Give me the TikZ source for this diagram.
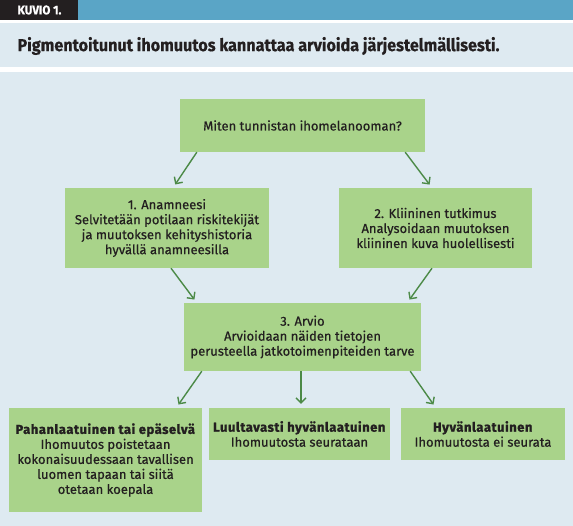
\documentclass[tikz,border=0pt]{standalone}
\usepackage{fontspec}
\setmainfont{Fira Sans}[FakeBold=0.6, BoldFeatures={FakeBold=1.3, LetterSpace=4}]
\newfontfamily\headfont{Fira Sans Bold}[FakeStretch=0.93, FakeBold=0.6]
\usetikzlibrary{arrows.meta}

\definecolor{barblue}{HTML}{5AA5C6}
\definecolor{panelblue}{HTML}{DEEAF1}
\definecolor{boxgreen}{HTML}{A9D38A}
\definecolor{arrowgreen}{HTML}{4C8A47}
\definecolor{textblack}{HTML}{231F20}

\tikzset{
  stepbox/.style={fill=boxgreen, align=center, inner sep=0pt,
                  text=textblack, font=\fontsize{13}{15}\selectfont},
  flow/.style={draw=arrowgreen, line width=1.4pt, shorten >=4pt,
               -{Straight Barb[length=5pt,width=10pt,line width=1.4pt]}}
}

\begin{document}
\begin{tikzpicture}[x=1pt,y=-1pt]
  \useasboundingbox (0,0) rectangle (573,526);

  % header and background panels
  \fill[barblue] (0,0) rectangle (573,20);
  \fill[textblack] (0,0) rectangle (78,20);
  \node[text=white, font=\headfont\fontsize{12.5}{14}\selectfont, anchor=west]
    (kuvio) at (14,10) {KUVIO 1.};
  \fill[panelblue] (0,23) rectangle (573,67);
  \node[text=textblack, font=\headfont\fontsize{17.4}{19}\selectfont, anchor=west]
    (title) at (14,46) {Pigmentoitunut ihomuutos kannattaa arvioida järjestelmällisesti.};
  \fill[panelblue] (0,72) rectangle (573,526);

  % question
  \node[stepbox, minimum width=245pt, minimum height=53pt] (question) at (302.5,125.5)
    {Miten tunnistan ihomelanooman?};

  % steps 1 and 2
  \node[stepbox, minimum width=204pt, minimum height=80pt] (anamnesis) at (167,228)
    {1. Anamneesi\\Selvitetään potilaan riskitekijät\\ja muutoksen kehityshistoria\\hyvällä anamneesilla};
  \node[stepbox, minimum width=193pt, minimum height=80pt] (clinical) at (435.5,228)
    {2. Kliininen tutkimus\\Analysoidaan muutoksen\\kliininen kuva huolellisesti};

  % step 3
  \node[stepbox, minimum width=237pt, minimum height=68pt] (assess) at (302.5,337)
    {3. Arvio\\Arvioidaan näiden tietojen\\perusteella jatkotoimenpiteiden tarve};

  % outcomes
  \node[stepbox, minimum width=193pt, minimum height=104pt] (malignant) at (105.5,460)
    {\textbf{Pahanlaatuinen tai epäselvä}\\Ihomuutos poistetaan\\kokonaisuudessaan tavallisen\\luomen tapaan tai siitä\\otetaan koepala};
  \node[stepbox, minimum width=181pt, minimum height=52pt] (probable) at (299.5,434)
    {\textbf{Luultavasti hyvänlaatuinen}\\Ihomuutosta seurataan};
  \node[stepbox, minimum width=164pt, minimum height=52pt] (benign) at (483,434)
    {\textbf{Hyvänlaatuinen}\\Ihomuutosta ei seurata};

  % connectors
  \draw[flow] ([xshift=17pt]question.south west) -- ([xshift=6pt]anamnesis.north);
  \draw[flow] ([xshift=-20pt]question.south east) -- ([xshift=-3.5pt]clinical.north);
  \draw[flow] ([xshift=4pt]anamnesis.south) -- ([xshift=13pt]assess.north west);
  \draw[flow] ([xshift=-3.5pt]clinical.south) -- ([xshift=-14pt]assess.north east);
  \draw[flow] ([xshift=18pt]assess.south west) -- ([xshift=-26pt]malignant.north east);
  \draw[flow] ([xshift=-1.5pt]assess.south) -- ([xshift=1.5pt]probable.north);
  \draw[flow] ([xshift=-11pt]assess.south east) -- ([xshift=35pt]benign.north west);

\end{tikzpicture}
\end{document}
